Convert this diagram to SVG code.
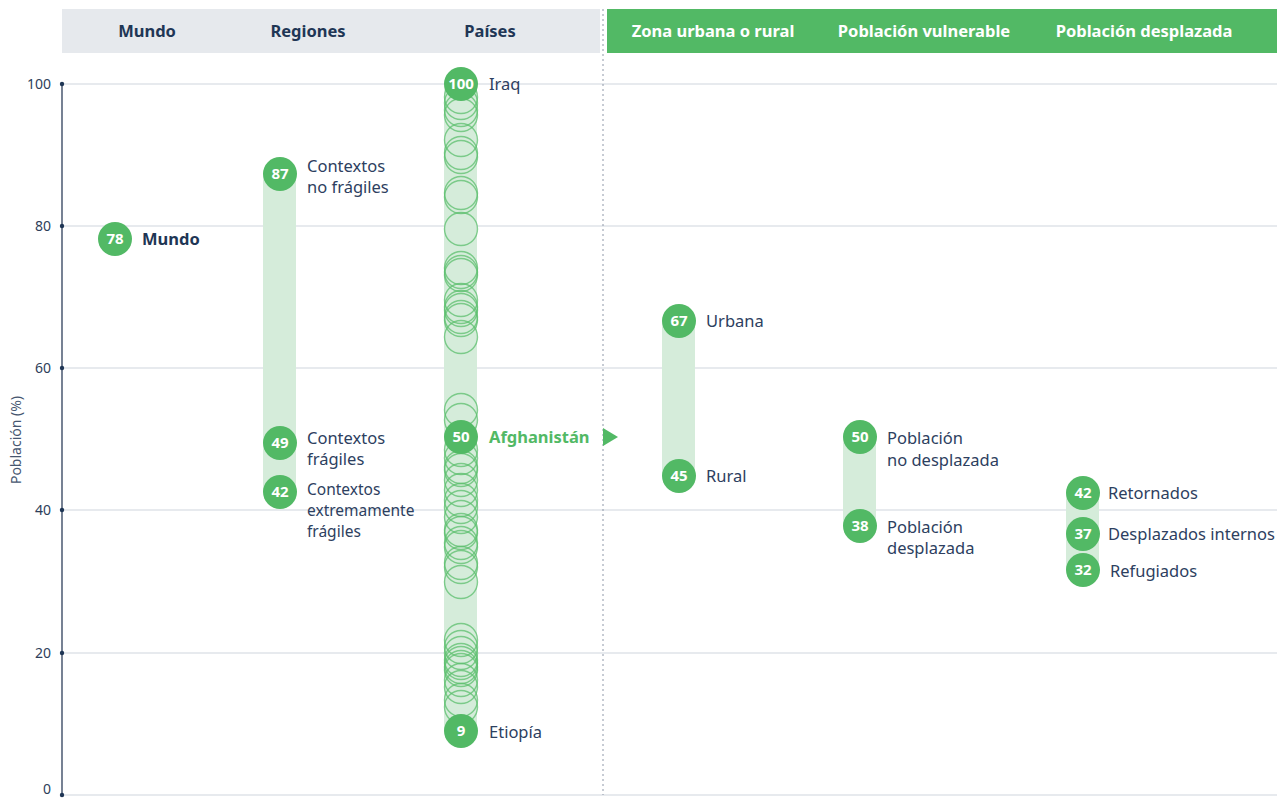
<svg xmlns="http://www.w3.org/2000/svg" width="1288" height="798" viewBox="0 0 1288 798">
<style>
.hd{font-family:"Noto Sans","Open Sans",sans-serif;font-weight:700;font-size:16.5px;text-anchor:middle}
.hdk{fill:#1f3655}
.hdw{fill:#ffffff}
.ax{font-family:"Noto Sans","Open Sans",sans-serif;font-size:14px;fill:#2d3e5a;text-anchor:end}
.grid{stroke:#dfe3e8;stroke-width:1.3}
.lbl{font-family:"Noto Sans","Open Sans",sans-serif;font-size:16.5px;fill:#2d4060}
.sm{font-size:15.5px}
.num{font-family:"Noto Sans","Open Sans",sans-serif;font-size:15px;font-weight:700;fill:#ffffff;text-anchor:middle}
.dot{fill:#52b965}
.band{fill:#d5ecda}
.ring{fill:none;stroke:#5cbf6e;stroke-opacity:0.75;stroke-width:1.4}
</style>
<rect width="1288" height="798" fill="#ffffff"/>
<g id="header">
<rect x="62" y="9" width="538" height="44" fill="#e6e9ed"/>
<rect x="607" y="9" width="670" height="44" fill="#52b965"/>
<text class="hd hdk" x="147" y="37">Mundo</text>
<text class="hd hdk" x="308" y="37">Regiones</text>
<text class="hd hdk" x="490" y="37">Países</text>
<text class="hd hdw" x="713" y="37">Zona urbana o rural</text>
<text class="hd hdw" x="924" y="37">Población vulnerable</text>
<text class="hd hdw" x="1144" y="37">Población desplazada</text>
</g>
<g id="axis">
<line class="grid" x1="62" y1="84" x2="1277" y2="84"/>
<line class="grid" x1="62" y1="226" x2="1277" y2="226"/>
<line class="grid" x1="62" y1="368" x2="1277" y2="368"/>
<line class="grid" x1="62" y1="510" x2="1277" y2="510"/>
<line class="grid" x1="62" y1="653" x2="1277" y2="653"/>
<line class="grid" x1="62" y1="795" x2="1277" y2="795"/>
<line x1="603" y1="9" x2="603" y2="795" stroke="#8e98a8" stroke-width="1" stroke-dasharray="2,3"/>
<line x1="62" y1="84" x2="62" y2="795" stroke="#2d3e5a" stroke-width="1.3"/>
<g fill="#1f3655">
<circle cx="62" cy="84" r="2.2"/><circle cx="62" cy="226" r="2.2"/><circle cx="62" cy="368" r="2.2"/>
<circle cx="62" cy="510" r="2.2"/><circle cx="62" cy="653" r="2.2"/><circle cx="62" cy="795" r="2.2"/>
</g>
<text class="ax" x="51" y="89">100</text>
<text class="ax" x="51" y="231">80</text>
<text class="ax" x="51" y="373">60</text>
<text class="ax" x="51" y="515">40</text>
<text class="ax" x="51" y="658">20</text>
<text class="ax" x="51" y="794">0</text>
<text class="ax" transform="translate(21,440) rotate(-90)" style="text-anchor:middle;fill:#46566f">Población (%)</text>
</g>
<g id="mundo">
<circle class="dot" cx="115" cy="239" r="17"/>
<text class="num" x="115" y="244">78</text>
<text class="lbl" x="142" y="245" style="font-weight:700;fill:#1f3655">Mundo</text>
</g>
<g id="regiones">
<rect class="band" x="263" y="174" width="33" height="318"/>
<circle class="dot" cx="280" cy="174" r="17"/>
<text class="num" x="280" y="179">87</text>
<text class="lbl" x="307" y="172">Contextos</text>
<text class="lbl" x="307" y="193">no frágiles</text>
<circle class="dot" cx="280" cy="443" r="17"/>
<text class="num" x="280" y="448">49</text>
<text class="lbl" x="307" y="444">Contextos</text>
<text class="lbl" x="307" y="465">frágiles</text>
<circle class="dot" cx="280" cy="492" r="17"/>
<text class="num" x="280" y="497">42</text>
<text class="lbl sm" x="307" y="495">Contextos</text>
<text class="lbl sm" x="307" y="516">extremamente</text>
<text class="lbl sm" x="307" y="537">frágiles</text>
</g>
<g id="paises">
<rect class="band" x="444" y="84" width="33" height="647"/>
<g class="rings">
<circle class="ring" cx="461" cy="97" r="16.5"/><circle class="ring" cx="461" cy="103" r="16.5"/>
<circle class="ring" cx="461" cy="110" r="16.5"/><circle class="ring" cx="461" cy="115" r="16.5"/>
<circle class="ring" cx="461" cy="140" r="16.5"/><circle class="ring" cx="461" cy="153" r="16.5"/>
<circle class="ring" cx="461" cy="157" r="16.5"/><circle class="ring" cx="461" cy="193" r="16.5"/>
<circle class="ring" cx="461" cy="197" r="16.5"/><circle class="ring" cx="461" cy="229" r="16.5"/>
<circle class="ring" cx="461" cy="268" r="16.5"/><circle class="ring" cx="461" cy="272" r="16.5"/>
<circle class="ring" cx="461" cy="275" r="16.5"/><circle class="ring" cx="461" cy="300" r="16.5"/>
<circle class="ring" cx="461" cy="307" r="16.5"/><circle class="ring" cx="461" cy="310" r="16.5"/>
<circle class="ring" cx="461" cy="317" r="16.5"/><circle class="ring" cx="461" cy="320" r="16.5"/>
<circle class="ring" cx="461" cy="337" r="16.5"/><circle class="ring" cx="461" cy="410" r="16.5"/>
<circle class="ring" cx="461" cy="420" r="16.5"/><circle class="ring" cx="461" cy="450" r="16.5"/>
<circle class="ring" cx="461" cy="458" r="16.5"/><circle class="ring" cx="461" cy="467" r="16.5"/>
<circle class="ring" cx="461" cy="470" r="16.5"/><circle class="ring" cx="461" cy="480" r="16.5"/>
<circle class="ring" cx="461" cy="490" r="16.5"/><circle class="ring" cx="461" cy="500" r="16.5"/>
<circle class="ring" cx="461" cy="507" r="16.5"/><circle class="ring" cx="461" cy="517" r="16.5"/>
<circle class="ring" cx="461" cy="530" r="16.5"/><circle class="ring" cx="461" cy="533" r="16.5"/>
<circle class="ring" cx="461" cy="543" r="16.5"/><circle class="ring" cx="461" cy="547" r="16.5"/>
<circle class="ring" cx="461" cy="563" r="16.5"/><circle class="ring" cx="461" cy="567" r="16.5"/>
<circle class="ring" cx="461" cy="582" r="16.5"/><circle class="ring" cx="461" cy="640" r="16.5"/>
<circle class="ring" cx="461" cy="647" r="16.5"/><circle class="ring" cx="461" cy="653" r="16.5"/>
<circle class="ring" cx="461" cy="660" r="16.5"/><circle class="ring" cx="461" cy="663" r="16.5"/>
<circle class="ring" cx="461" cy="667" r="16.5"/><circle class="ring" cx="461" cy="670" r="16.5"/>
<circle class="ring" cx="461" cy="680" r="16.5"/><circle class="ring" cx="461" cy="687" r="16.5"/>
<circle class="ring" cx="461" cy="700" r="16.5"/><circle class="ring" cx="461" cy="707" r="16.5"/>
</g>
<circle class="dot" cx="461" cy="84" r="17"/>
<text class="num" x="461" y="89">100</text>
<text class="lbl" x="489" y="90">Iraq</text>
<circle class="dot" cx="461" cy="437" r="17"/>
<text class="num" x="461" y="442">50</text>
<text class="lbl" x="489" y="443" style="font-weight:700;fill:#52b965">Afghanistán</text>
<polygon points="603,428 618,437 603,446" fill="#52b965"/>
<circle class="dot" cx="461" cy="731" r="17"/>
<text class="num" x="461" y="736">9</text>
<text class="lbl" x="489" y="738">Etiopía</text>
</g>
<g id="zona">
<rect class="band" x="662" y="321" width="33" height="155"/>
<circle class="dot" cx="679" cy="321" r="17"/>
<text class="num" x="679" y="326">67</text>
<text class="lbl" x="706" y="327">Urbana</text>
<circle class="dot" cx="679" cy="476" r="17"/>
<text class="num" x="679" y="481">45</text>
<text class="lbl" x="706" y="482">Rural</text>
</g>
<g id="vulnerable">
<rect class="band" x="843" y="437" width="33" height="89"/>
<circle class="dot" cx="860" cy="437" r="17"/>
<text class="num" x="860" y="442">50</text>
<text class="lbl" x="887" y="444">Población</text>
<text class="lbl" x="887" y="466">no desplazada</text>
<circle class="dot" cx="860" cy="526" r="17"/>
<text class="num" x="860" y="531">38</text>
<text class="lbl" x="887" y="533">Población</text>
<text class="lbl" x="887" y="554">desplazada</text>
</g>
<g id="desplazada">
<rect class="band" x="1066" y="493" width="33" height="77"/>
<circle class="dot" cx="1083" cy="493" r="17"/>
<text class="num" x="1083" y="498">42</text>
<text class="lbl" x="1108" y="499">Retornados</text>
<circle class="dot" cx="1083" cy="534" r="17"/>
<text class="num" x="1083" y="539">37</text>
<text class="lbl" x="1108" y="540">Desplazados internos</text>
<circle class="dot" cx="1083" cy="570" r="17"/>
<text class="num" x="1083" y="575">32</text>
<text class="lbl" x="1110" y="577">Refugiados</text>
</g>
</svg>
